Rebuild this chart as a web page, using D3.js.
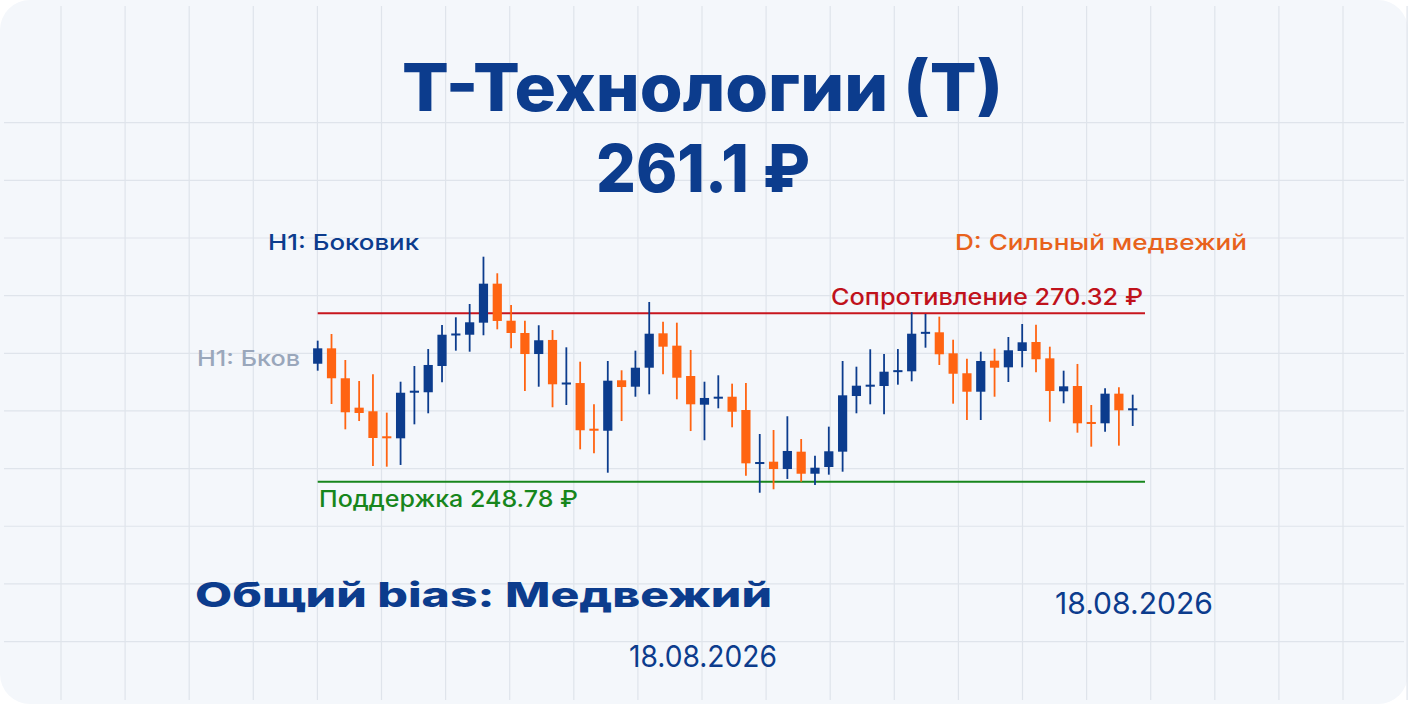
<!DOCTYPE html>
<html><head><meta charset="utf-8">
<script src="https://cdn.jsdelivr.net/npm/d3@7"></script>
<style>html,body{margin:0;padding:0;background:#ffffff;}svg{display:block;}</style>
</head><body>
<svg id="chart" width="1408" height="704"></svg>
<script>
// ---- Data ----
const candleIndex = d3.range(60);
const open  = [263.87,265.84,262.01,258.25,257.79,254.59,254.33,260.16,260.22,263.58,
               267.51,267.58,269.12,274.11,269.37,267.80,265.11,266.91,261.24,261.40,
               255.56,255.30,261.75,260.93,263.36,267.76,266.18,262.30,258.63,259.40,
               259.65,257.95,251.04,251.34,250.40,252.62,249.80,250.66,252.62,259.74,
               260.93,261.02,262.81,262.90,267.71,267.89,265.20,262.65,260.29,264.26,
               263.41,265.50,266.65,264.56,260.34,261.02,256.42,256.25,260.04,257.91];
const high  = [266.82,267.67,264.35,261.66,262.52,257.61,261.57,263.58,265.75,268.82,
               269.81,271.51,277.56,275.44,271.38,269.37,268.79,268.18,265.97,264.13,
               258.68,264.22,263.03,265.54,271.77,269.25,269.12,265.63,261.57,262.39,
               261.32,261.40,254.88,255.39,257.15,254.24,252.11,255.82,264.22,263.49,
               265.72,265.11,265.75,270.45,270.23,269.89,266.94,264.51,265.41,265.79,
               267.29,268.95,268.86,266.05,262.98,263.84,258.59,260.73,260.86,259.91];
const low   = [262.98,258.72,255.48,256.54,250.79,250.70,250.92,256.12,257.53,261.49,
               265.54,265.41,267.51,268.27,265.84,260.38,260.93,258.30,258.59,252.92,
               252.41,249.93,256.54,259.65,259.96,262.52,259.32,255.26,254.08,258.17,
               255.74,249.55,247.37,247.81,249.13,248.78,248.36,249.68,250.06,257.53,
               258.68,257.40,261.19,261.62,265.92,263.71,258.76,256.67,256.67,259.65,
               261.53,263.41,262.77,256.45,258.81,255.05,253.26,255.18,253.39,255.91];
const close = [265.84,262.01,257.66,257.57,254.37,254.33,260.16,260.42,263.71,267.58,
               267.71,269.17,274.11,269.34,267.80,265.11,266.87,261.24,261.44,255.36,
               255.30,261.70,260.89,263.36,267.71,266.05,262.08,258.68,259.49,259.65,
               257.73,251.13,251.30,250.40,252.71,249.80,250.57,252.67,259.83,261.06,
               261.19,262.85,263.03,267.71,267.93,265.08,262.59,260.29,264.22,263.36,
               265.59,266.61,264.44,260.38,260.98,256.25,256.16,260.04,257.91,258.17];
const resistance = 270.32;
const support = 248.78;
const titleLines = ["Т-Технологии (Т)", "261.1 ₽"];
const h1Label = "H1: Боковик";
const h1Short = "H1: Бков";
const dLabel = "D: Сильный медвежий";
const resLabel = "Сопротивление 270.32 ₽";
const supLabel = "Поддержка 248.78 ₽";
const biasLabel = "Общий bias: Медвежий";
const dateLabel = "18.08.2026";

// ---- Drawing ----
const W = 1408, H = 704;
const svg = d3.select("#chart");
const NAVY = "#0c3c8d", ORANGE = "#ff6412", FONT = "Inter, 'Open Sans', sans-serif";

svg.append("rect").attr("x",0).attr("y",0).attr("width",W).attr("height",H)
  .attr("rx",30).attr("ry",30).attr("fill","#f4f7fb");

// grid
const gridG = svg.append("g");
d3.range(61, W, 64.1).forEach(x => gridG.append("line")
  .attr("x1",x).attr("x2",x).attr("y1",6).attr("y2",H-4)
  .attr("stroke","#dfe4eb").attr("stroke-width",1.2));
d3.range(0, 10).map(k => 122.7 + k*57.65).forEach(y => gridG.append("line")
  .attr("x1",4).attr("x2",W-4).attr("y1",y).attr("y2",y)
  .attr("stroke","#dfe4eb").attr("stroke-width",1.2));

// scales
const x = d3.scaleLinear().domain([0, 59]).range([317.7, 1132.7]);
const y = d3.scaleLinear().domain([support, resistance]).range([481.7, 313.3]);

// level lines
svg.append("line").attr("x1",x(0)).attr("x2",1145).attr("y1",y(resistance)).attr("y2",y(resistance))
  .attr("stroke","#c8161e").attr("stroke-width",2);
svg.append("line").attr("x1",x(0)).attr("x2",1145).attr("y1",y(support)).attr("y2",y(support))
  .attr("stroke","#17861c").attr("stroke-width",2);

// candles
const candles = candleIndex.map(i => ({i, o:open[i], h:high[i], l:low[i], c:close[i]}));
const cg = svg.append("g").selectAll("g").data(candles).join("g");
const col = d => d.c >= d.o ? NAVY : ORANGE;
cg.append("line")
  .attr("x1", d => x(d.i)).attr("x2", d => x(d.i))
  .attr("y1", d => y(d.h)).attr("y2", d => y(d.l))
  .attr("stroke", col).attr("stroke-width", 1.8);
const bw = 9.2;
cg.append("rect")
  .attr("x", d => x(d.i) - bw/2)
  .attr("width", bw)
  .attr("y", d => Math.min(y(d.o), y(d.c)) - (Math.abs(y(d.o)-y(d.c)) < 2 ? 1 - Math.abs(y(d.o)-y(d.c))/2 : 0))
  .attr("height", d => Math.max(2, Math.abs(y(d.o) - y(d.c))))
  .attr("fill", col);

// text helper
function txt(s, xl, base, size, weight, color, width) {
  const t = svg.append("text").attr("x", xl).attr("y", base)
    .attr("font-family", FONT).attr("font-size", size).attr("font-weight", weight)
    .attr("fill", color).text(s);
  if (width) t.attr("textLength", width).attr("lengthAdjust", "spacingAndGlyphs");
  return t;
}
txt(titleLines[0], 402, 111, 66, 800, NAVY, 601);
txt(titleLines[1], 596, 192, 66, 800, NAVY, 214);
txt(h1Label, 268, 249.5, 22, 500, NAVY, 151);
txt(dLabel, 955, 250, 22, 500, "#e8621c", 292);
txt(resLabel, 831, 305, 23, 500, "#c0121b", 312);
txt(supLabel, 319, 507.3, 23, 500, "#17861c", 259);
txt(h1Short, 197, 365.7, 21, 500, "#9aa7bb", 103);
txt(biasLabel, 195, 607, 34, 800, NAVY, 577);
txt(dateLabel, 1055, 614.3, 30, 400, NAVY, 158);
txt(dateLabel, 629, 666.7, 30, 400, NAVY, 148);
</script>
</body></html>
